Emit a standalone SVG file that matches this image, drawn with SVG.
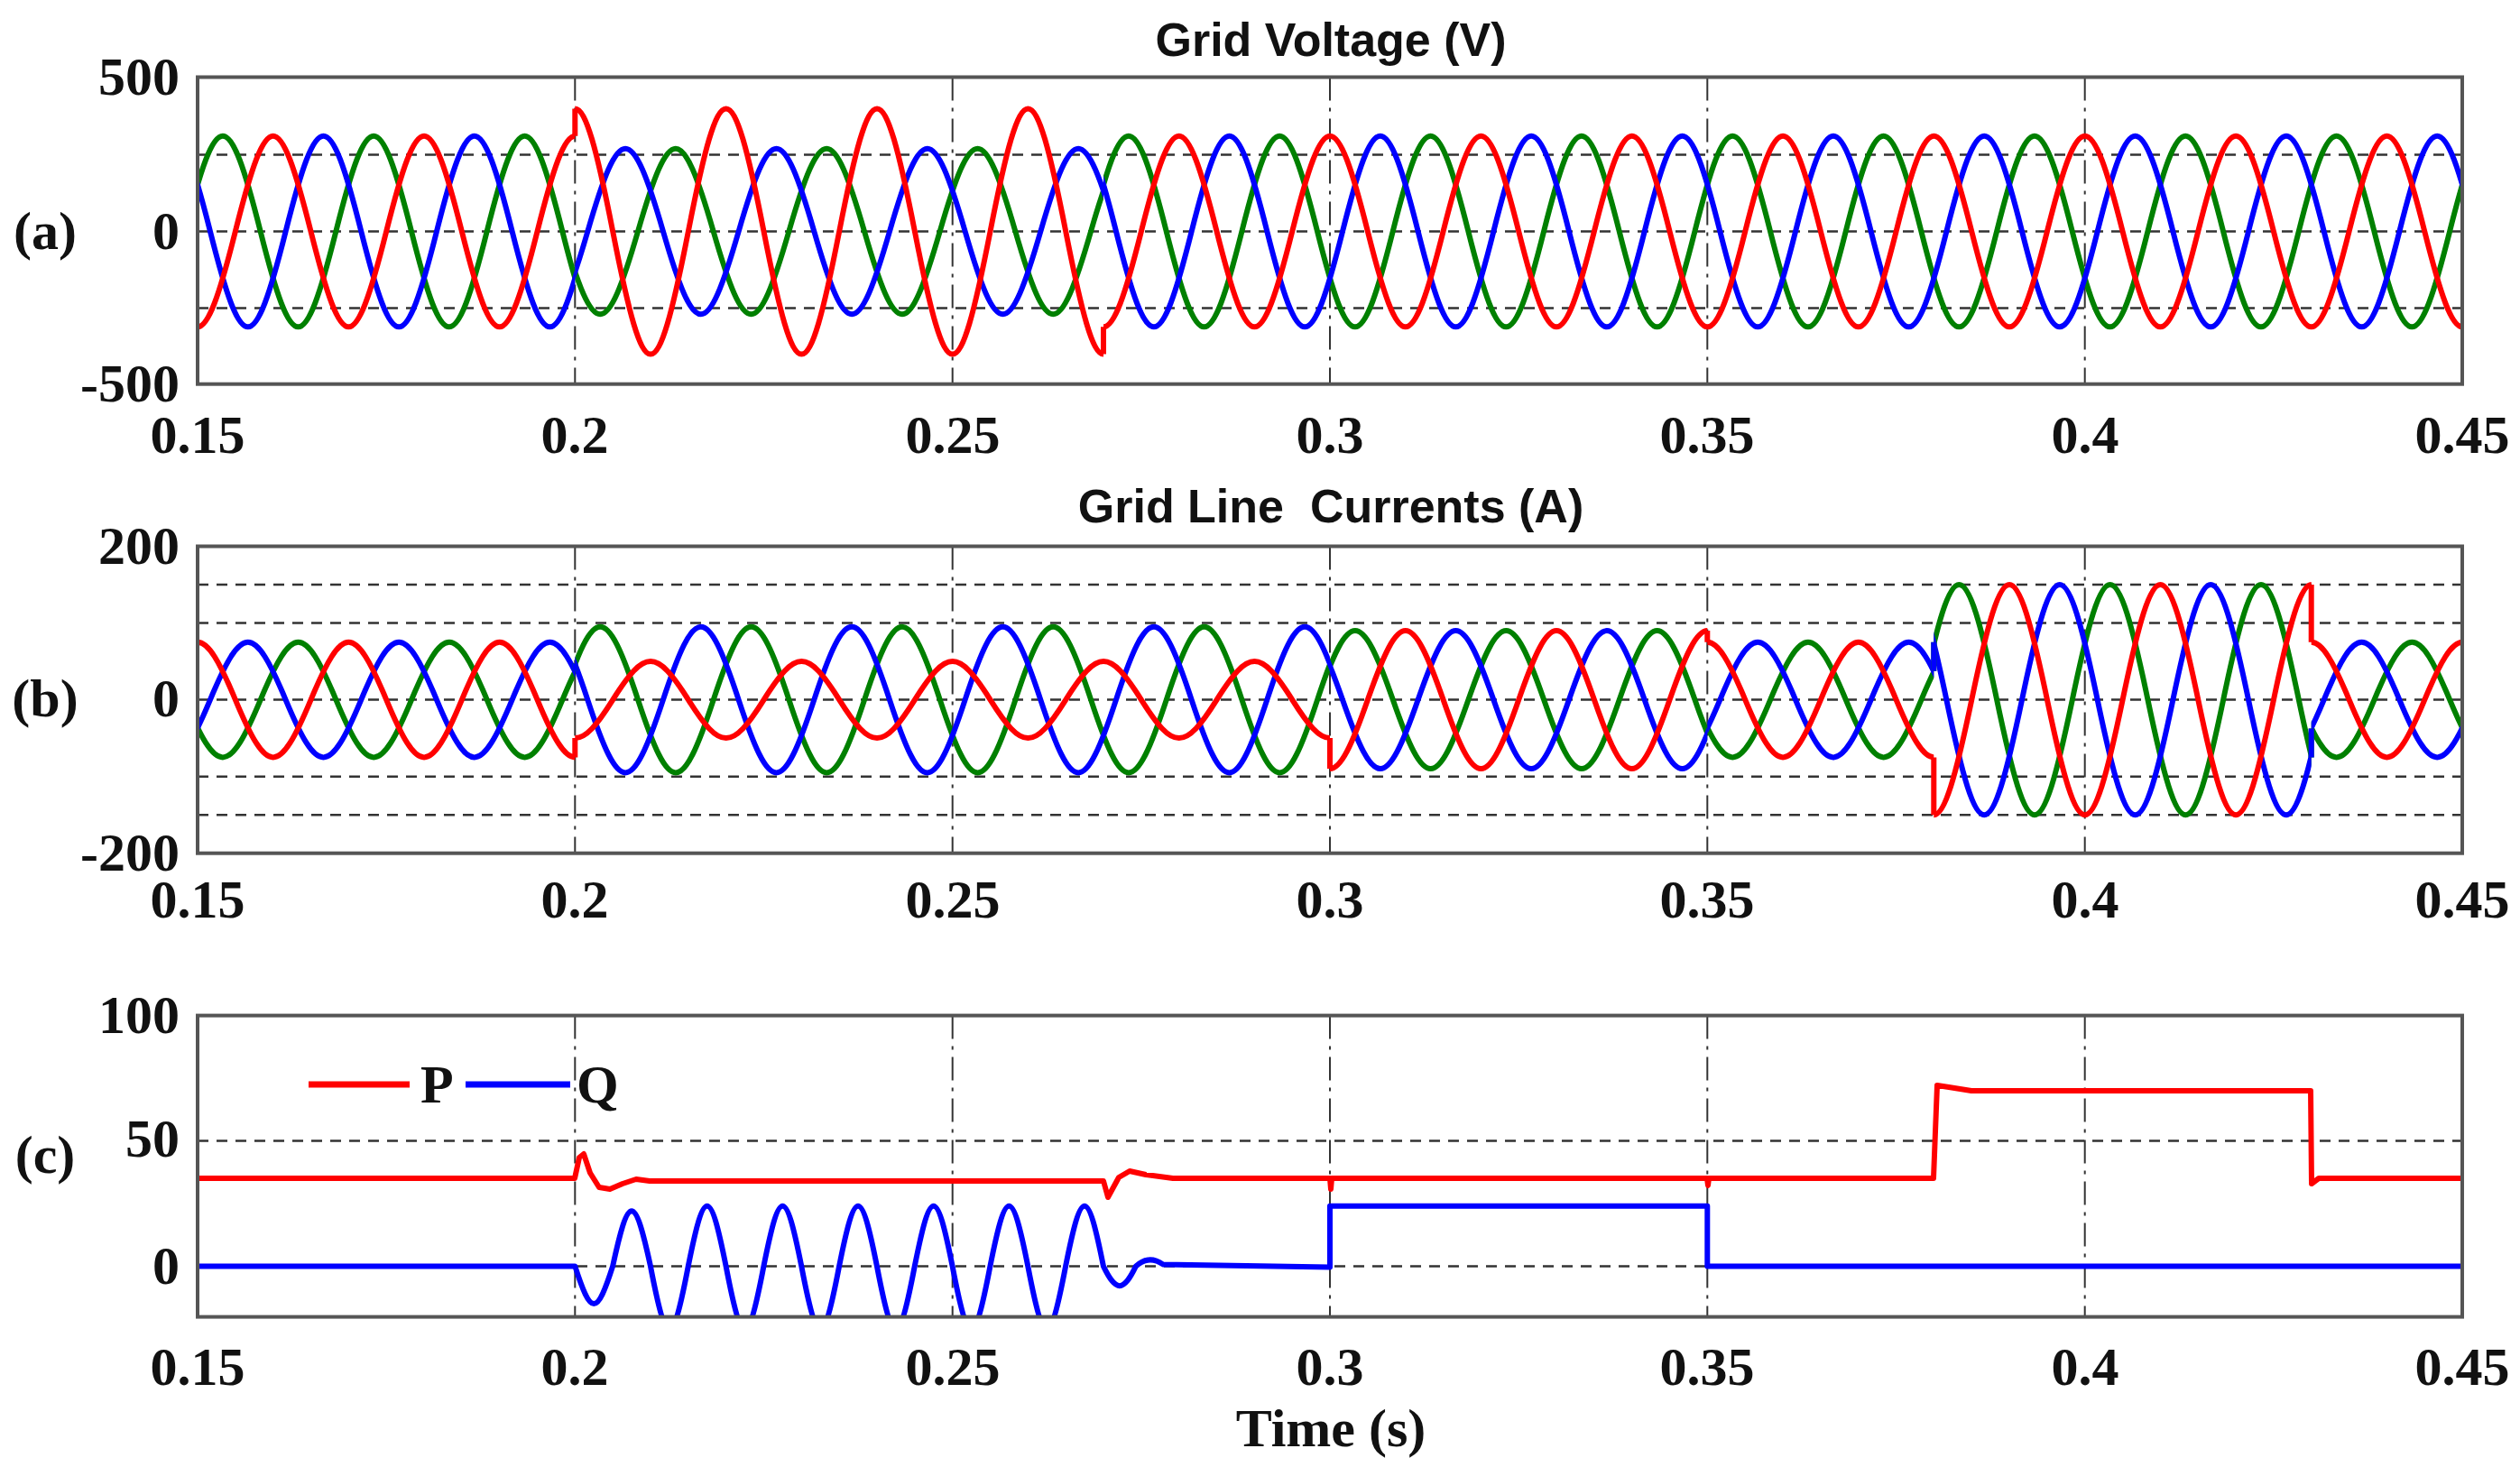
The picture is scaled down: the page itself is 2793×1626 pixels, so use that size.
<svg xmlns="http://www.w3.org/2000/svg" xmlns:xlink="http://www.w3.org/1999/xlink" width="2793" height="1626" viewBox="0 0 2793 1626">
<style>
.box{fill:none;stroke:#555;stroke-width:4}
.hg{stroke:#333;stroke-width:2.5;stroke-dasharray:12 9;fill:none}
.vg{stroke:#333;stroke-width:2;stroke-dasharray:26 8 4 8;fill:none}
.w{fill:none;stroke-width:6;stroke-linejoin:round}
.r{stroke:#ff0000}.b{stroke:#0000ff}.g{stroke:#008000}
.t{font-family:"Liberation Serif",serif;font-weight:bold;font-size:60px;fill:#111}
.ti{font-family:"Liberation Sans",sans-serif;font-weight:bold;font-size:52px;fill:#111}
</style>
<defs>
<path id="s" vector-effect="non-scaling-stroke" d="M0,0 c35.51,-133.33 48.16,-133.33 83.67,0 c35.51,133.33 48.16,133.33 83.67,0 c35.51,-133.33 48.16,-133.33 83.67,0 c35.51,133.33 48.16,133.33 83.67,0 c35.51,-133.33 48.16,-133.33 83.67,0 c35.51,133.33 48.16,133.33 83.67,0 c35.51,-133.33 48.16,-133.33 83.67,0 c35.51,133.33 48.16,133.33 83.67,0 c35.51,-133.33 48.16,-133.33 83.67,0 c35.51,133.33 48.16,133.33 83.67,0 c35.51,-133.33 48.16,-133.33 83.67,0 c35.51,133.33 48.16,133.33 83.67,0 c35.51,-133.33 48.16,-133.33 83.67,0 c35.51,133.33 48.16,133.33 83.67,0 c35.51,-133.33 48.16,-133.33 83.67,0 c35.51,133.33 48.16,133.33 83.67,0 c35.51,-133.33 48.16,-133.33 83.67,0 c35.51,133.33 48.16,133.33 83.67,0 c35.51,-133.33 48.16,-133.33 83.67,0 c35.51,133.33 48.16,133.33 83.67,0 c35.51,-133.33 48.16,-133.33 83.67,0 c35.51,133.33 48.16,133.33 83.67,0 c35.51,-133.33 48.16,-133.33 83.67,0 c35.51,133.33 48.16,133.33 83.67,0 c35.51,-133.33 48.16,-133.33 83.67,0 c35.51,133.33 48.16,133.33 83.67,0 c35.51,-133.33 48.16,-133.33 83.67,0 c35.51,133.33 48.16,133.33 83.67,0 c35.51,-133.33 48.16,-133.33 83.67,0 c35.51,133.33 48.16,133.33 83.67,0 c35.51,-133.33 48.16,-133.33 83.67,0 c35.51,133.33 48.16,133.33 83.67,0 c35.51,-133.33 48.16,-133.33 83.67,0 c35.51,133.33 48.16,133.33 83.67,0"/>
<clipPath id="a1"><rect x="219" y="85.5" width="418.3" height="340.2"/></clipPath>
<clipPath id="a2"><rect x="637.3" y="85.5" width="585.7" height="340.2"/></clipPath>
<clipPath id="a3"><rect x="1223" y="85.5" width="1506" height="340.2"/></clipPath>
<clipPath id="b1"><rect x="219" y="605.5" width="418.3" height="340.2"/></clipPath>
<clipPath id="b2"><rect x="637.3" y="605.5" width="836.7" height="340.2"/></clipPath>
<clipPath id="b3"><rect x="1474" y="605.5" width="418.3" height="340.2"/></clipPath>
<clipPath id="b4"><rect x="1892.3" y="605.5" width="251" height="340.2"/></clipPath>
<clipPath id="b5"><rect x="2143.3" y="605.5" width="418.4" height="340.2"/></clipPath>
<clipPath id="b6"><rect x="2561.7" y="605.5" width="167.3" height="340.2"/></clipPath>
<clipPath id="cc"><rect x="219" y="1125.6" width="2510" height="334"/></clipPath>
</defs>

<g id="titles">
<text class="ti" x="1475" y="62" text-anchor="middle">Grid Voltage (V)</text>
<text class="ti" x="1475" y="579" text-anchor="middle" xml:space="preserve">Grid Line  Currents (A)</text>
<text class="t" x="1475" y="1603" text-anchor="middle">Time (s)</text>
</g>

<g id="grid" class="connectors">
<path class="hg" d="M219,171.5H2729M219,256.5H2729M219,341.6H2729"/>
<path class="hg" d="M219,648H2729M219,690.6H2729M219,775.6H2729M219,860.7H2729M219,903.2H2729"/>
<path class="hg" d="M219,1264.5H2729M219,1403.4H2729"/>
<path class="vg" d="M637.3,85.5V425.7M1055.7,85.5V425.7M1474,85.5V425.7M1892.3,85.5V425.7M2310.7,85.5V425.7"/>
<path class="vg" d="M637.3,605.5V945.7M1055.7,605.5V945.7M1474,605.5V945.7M1892.3,605.5V945.7M2310.7,605.5V945.7"/>
<path class="vg" d="M637.3,1125.6V1460M1055.7,1125.6V1460M1474,1125.6V1460M1892.3,1125.6V1460M2310.7,1125.6V1460"/>
</g>

<g id="plot-a">
<g clip-path="url(#a1)">
<use href="#s" class="w g" transform="translate(205,256.5) scale(1,1.058)"/>
<use href="#s" class="w b" transform="translate(149.3,256.5) scale(1,1.058)"/>
<use href="#s" class="w r" transform="translate(93.5,256.5) scale(1,1.058)"/>
</g>
<g clip-path="url(#a2)">
<use href="#s" class="w g" transform="translate(205,256.5) scale(1,0.918)"/>
<use href="#s" class="w b" transform="translate(149.3,256.5) scale(1,0.918)"/>
<use href="#s" class="w r" transform="translate(93.5,256.5) scale(1,1.361)"/>
</g>
<g clip-path="url(#a3)">
<use href="#s" class="w g" transform="translate(205,256.5) scale(1,1.058)"/>
<use href="#s" class="w b" transform="translate(149.3,256.5) scale(1,1.058)"/>
<use href="#s" class="w r" transform="translate(93.5,256.5) scale(1,1.058)"/>
</g>
<path class="w r" d="M637.3,150.7V120.4M1223,392.6V362.3"/>
<rect class="box" x="219" y="85.5" width="2510" height="340.2"/>
</g>

<g id="plot-b">
<g clip-path="url(#b1)">
<use href="#s" class="w g" transform="translate(121.4,775.6) scale(1,0.638)"/>
<use href="#s" class="w b" transform="translate(65.6,775.6) scale(1,0.638)"/>
<use href="#s" class="w r" transform="translate(177.2,775.6) scale(1,0.638)"/>
</g>
<g clip-path="url(#b2)">
<use href="#s" class="w g" transform="translate(121.4,775.6) scale(1,0.808)"/>
<use href="#s" class="w b" transform="translate(65.6,775.6) scale(1,0.808)"/>
<use href="#s" class="w r" transform="translate(177.2,775.6) scale(1,0.425)"/>
</g>
<g clip-path="url(#b3)">
<use href="#s" class="w g" transform="translate(121.4,775.6) scale(1,0.765)"/>
<use href="#s" class="w b" transform="translate(65.6,775.6) scale(1,0.765)"/>
<use href="#s" class="w r" transform="translate(177.2,775.6) scale(1,0.765)"/>
</g>
<g clip-path="url(#b4)">
<use href="#s" class="w g" transform="translate(121.4,775.6) scale(1,0.638)"/>
<use href="#s" class="w b" transform="translate(65.6,775.6) scale(1,0.638)"/>
<use href="#s" class="w r" transform="translate(177.2,775.6) scale(1,0.638)"/>
</g>
<g clip-path="url(#b5)">
<use href="#s" class="w g" transform="translate(121.4,775.6) scale(1,1.276)"/>
<use href="#s" class="w b" transform="translate(65.6,775.6) scale(1,1.276)"/>
<use href="#s" class="w r" transform="translate(177.2,775.6) scale(1,1.276)"/>
</g>
<g clip-path="url(#b6)">
<use href="#s" class="w g" transform="translate(121.4,775.6) scale(1,0.638)"/>
<use href="#s" class="w b" transform="translate(65.6,775.6) scale(1,0.638)"/>
<use href="#s" class="w r" transform="translate(177.2,775.6) scale(1,0.638)"/>
</g>
<path class="w g" d="M637.3,743.7V735.2M2143.3,743.7V711.8M2561.7,839.4V807.5"/>
<path class="w b" d="M637.3,743.7V735.2M2143.3,743.7V711.8M2561.7,839.4V807.5"/>
<path class="w r" d="M637.3,839.4V818.1M1474,818.1V852.1M1892.3,699.1V711.8M2143.3,839.4V903.2M2561.7,648V711.8"/>
<rect class="box" x="219" y="605.5" width="2510" height="340.2"/>
</g>

<g id="plot-c">
<g clip-path="url(#cc)">
<path class="w r" d="M219,1306H637L642,1283L647,1279L654,1300L664,1316L676,1318L690,1312L705,1307L720,1309H1223L1228,1327L1240,1305L1252,1298L1270,1302L1300,1306H1474L1475,1318L1476,1306H1892L1893,1314L1894,1306H2143L2147,1203L2160,1205L2185,1209H2561L2562,1312L2570,1306H2729"/>
<path class="w b" d="M219,1403.4H637.3c17.75,55.6 24.08,55.6 41.83,0c17.75,-81.5 24.08,-81.5 41.83,0c17.75,92.6 24.08,92.6 41.83,0c17.75,-88.9 24.08,-88.9 41.83,0c17.75,92.6 24.08,92.6 41.83,0c17.75,-88.9 24.08,-88.9 41.83,0c17.75,92.6 24.08,92.6 41.83,0c17.75,-88.9 24.08,-88.9 41.83,0c17.75,92.6 24.08,92.6 41.83,0c17.75,-88.9 24.08,-88.9 41.83,0c17.75,92.6 24.08,92.6 41.83,0c17.75,-88.9 24.08,-88.9 41.83,0c17.75,92.6 24.08,92.6 41.83,0c17.75,-88.9 24.08,-88.9 41.83,0c14,29 22,29 36,0c10,-9 20,-9 30,-2L1474,1404.5V1336.7H1892.3V1403.4H2729"/>
</g>
<path class="r" stroke-width="7" d="M342,1202H454"/>
<text class="t" x="466" y="1222">P</text>
<path class="b" stroke-width="7" d="M516,1202H632"/>
<text class="t" x="639" y="1222">Q</text>
<rect class="box" x="219" y="1125.6" width="2510" height="334"/>
</g>

<g id="labels" class="t">
<text x="50" y="276" text-anchor="middle">(a)</text>
<text x="50" y="794" text-anchor="middle">(b)</text>
<text x="50" y="1300" text-anchor="middle">(c)</text>
<g text-anchor="end">
<text x="199" y="105">500</text><text x="199" y="276">0</text><text x="199" y="445">-500</text>
<text x="199" y="625">200</text><text x="199" y="794">0</text><text x="199" y="965">-200</text>
<text x="199" y="1145">100</text><text x="199" y="1282">50</text><text x="199" y="1423">0</text>
</g>
<g text-anchor="middle">
<text x="219" y="502">0.15</text><text x="637" y="502">0.2</text><text x="1056" y="502">0.25</text><text x="1474" y="502">0.3</text><text x="1892" y="502">0.35</text><text x="2311" y="502">0.4</text><text x="2729" y="502">0.45</text>
<text x="219" y="1017">0.15</text><text x="637" y="1017">0.2</text><text x="1056" y="1017">0.25</text><text x="1474" y="1017">0.3</text><text x="1892" y="1017">0.35</text><text x="2311" y="1017">0.4</text><text x="2729" y="1017">0.45</text>
<text x="219" y="1535">0.15</text><text x="637" y="1535">0.2</text><text x="1056" y="1535">0.25</text><text x="1474" y="1535">0.3</text><text x="1892" y="1535">0.35</text><text x="2311" y="1535">0.4</text><text x="2729" y="1535">0.45</text>
</g>
</g>
</svg>
